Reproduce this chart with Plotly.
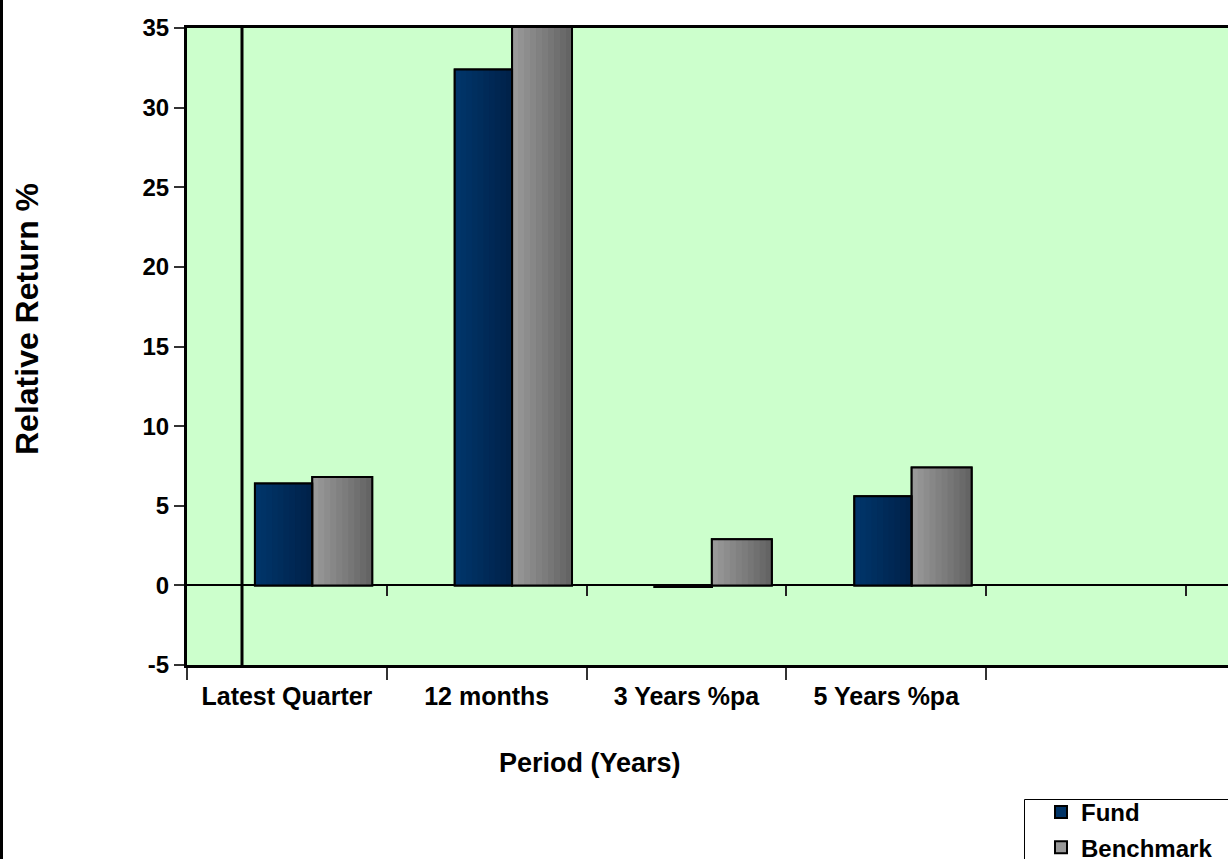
import plotly.graph_objects as go

# ---- data -------------------------------------------------------------
categories = ["Latest Quarter", "12 months", "3 Years %pa", "5 Years %pa"]
fund = [6.4, 32.4, -0.1, 5.6]
benchmark = [6.8, 36.0, 2.9, 7.4]
y_ticks = [-5, 0, 5, 10, 15, 20, 25, 30, 35]

# ---- canvas geometry ----------------------------------------------------
W, H = 1228, 859
ML, MR, MT, MB = 187, 0, 28, 194
plot_w = W - ML - MR
plot_h = H - MT - MB


def px_x(px):
    return (px - ML) / plot_w


def px_y(py):
    return (H - MB - py) / plot_h


Y_MIN, Y_MAX = min(y_ticks), max(y_ticks)
CAT_PX = 199.8                      # pixels per category slot
X_MIN = -0.5
X_MAX = X_MIN + plot_w / CAT_PX     # plot area runs on past the last slot

FONT = "Liberation Sans, Arial, sans-serif"


def mix(c1, c2, t):
    return "rgb({},{},{})".format(*[round(a + (b - a) * t) for a, b in zip(c1, c2)])


series = [
    dict(name="Fund", values=fund, offset=-0.16, width=0.287,
         legend_color="#003366", light=(0, 53, 106), dark=(0, 34, 74)),
    dict(name="Benchmark", values=benchmark, offset=0.127, width=0.30,
         legend_color="#999999", light=(153, 153, 153), dark=(100, 100, 100)),
]

N_STRIPES = 10
fig = go.Figure()

# fills: a legend bar, then vertical shading stripes (light on the left, dark on the right)
for s in series:
    fig.add_trace(go.Bar(
        x=categories, y=s["values"], name=s["name"], legendgroup=s["name"],
        offset=s["offset"], width=s["width"],
        marker=dict(color=s["legend_color"], line=dict(color="black", width=2)),
        hoverinfo="skip",
    ))
    for k in range(N_STRIPES):
        frac = (N_STRIPES - k) / N_STRIPES
        t = 1 - k / (N_STRIPES - 1)
        fig.add_trace(go.Bar(
            x=categories, y=s["values"], legendgroup=s["name"], showlegend=False,
            offset=s["offset"], width=[s["width"] * frac] * len(categories),
            marker=dict(color=mix(s["light"], s["dark"], t), line=dict(width=0)),
            hoverinfo="skip",
        ))

# outlines on top of the shading
for s in series:
    fig.add_trace(go.Bar(
        x=categories, y=s["values"], legendgroup=s["name"], showlegend=False,
        offset=s["offset"], width=s["width"],
        marker=dict(color="rgba(0,0,0,0)", line=dict(color="black", width=2)),
        hoverinfo="skip",
    ))

# carrier for the tick axis that sits on the zero line
fig.add_trace(go.Scatter(x=[X_MIN], y=[0], xaxis="x2", mode="markers",
                         marker=dict(opacity=0), showlegend=False, hoverinfo="skip"))

fig.update_layout(
    width=W, height=H,
    margin=dict(l=ML, r=MR, t=MT, b=MB, pad=0, autoexpand=False),
    paper_bgcolor="white",
    plot_bgcolor="#CCFFCC",
    barmode="overlay",
    font=dict(family=FONT, color="black", size=24, weight="bold"),
    xaxis=dict(
        type="category", range=[X_MIN, X_MAX], automargin=False,
        tickson="boundaries", ticks="outside", ticklen=12, tickwidth=1.5, tickcolor="#333",
        ticklabelstandoff=7,
        showline=True, linecolor="black", linewidth=3, mirror=True,
        showgrid=False, zeroline=False,
        tickfont=dict(family=FONT, size=25, weight="bold", color="black"),
    ),
    xaxis2=dict(
        overlaying="x", anchor="free", automargin=False,
        position=(0 - Y_MIN) / (Y_MAX - Y_MIN),
        range=[X_MIN, X_MAX],
        tickmode="array", tickvals=[i + 0.5 for i in range(len(categories) + 1)],
        ticks="outside", ticklen=10, tickwidth=1.5, tickcolor="#222",
        showticklabels=False, showline=False, showgrid=False, zeroline=False,
    ),
    yaxis=dict(
        range=[Y_MIN, Y_MAX], automargin=False,
        tickmode="array", tickvals=y_ticks, ticktext=[str(v) for v in y_ticks],
        ticks="outside", ticklen=10, tickwidth=1.5, tickcolor="#333",
        showline=True, linecolor="black", linewidth=3, mirror=False,
        showgrid=False,
        zeroline=True, zerolinecolor="black", zerolinewidth=2,
        tickfont=dict(family=FONT, size=24, weight="bold", color="black"),
    ),
    legend=dict(
        xref="container", yref="container",
        x=1041 / W, y=1 - 790 / H, xanchor="left", yanchor="top",
        bgcolor="rgba(0,0,0,0)", borderwidth=0,
        traceorder="grouped", tracegroupgap=1,
        font=dict(family=FONT, size=24, weight="bold", color="black"),
    ),
    showlegend=True,
    annotations=[
        dict(text="Period (Years)", x=px_x(590), y=px_y(763), xref="paper", yref="paper",
             showarrow=False, xanchor="center", yanchor="middle",
             font=dict(family=FONT, size=27, weight="bold", color="black")),
        dict(text="Relative Return %", x=px_x(27), y=px_y(319), xref="paper", yref="paper",
             showarrow=False, textangle=-90, xanchor="center", yanchor="middle",
             font=dict(family=FONT, size=32, weight="bold", color="black")),
    ],
    shapes=[
        # divider line inside the plot area
        dict(type="line", xref="paper", yref="paper", x0=px_x(242), x1=px_x(242), y0=0, y1=1,
             line=dict(color="black", width=3)),
        # outer frame edge on the left of the canvas
        dict(type="line", xref="paper", yref="paper", x0=px_x(1.5), x1=px_x(1.5),
             y0=px_y(H + 5), y1=px_y(-5), line=dict(color="black", width=3)),
        # legend frame
        dict(type="rect", xref="paper", yref="paper", x0=px_x(1024.5), x1=px_x(W + 10),
             y0=px_y(H + 10), y1=px_y(799.5), line=dict(color="black", width=1),
             fillcolor="rgba(0,0,0,0)"),
    ],
)

fig.write_html("out.html")
